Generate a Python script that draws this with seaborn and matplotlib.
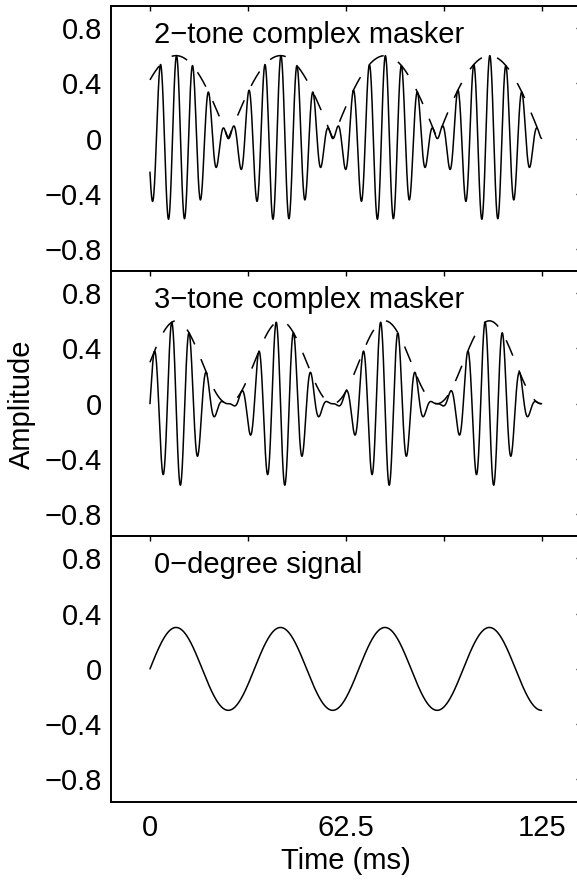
import numpy as np
import matplotlib
matplotlib.use("Agg")
import matplotlib.pyplot as plt
import seaborn as sns

# ---- stimulus definitions (time axis in ms) ----
duration_ms = 125.0
sample_step_ms = 0.05

# 2-tone complex masker: tone frequencies, amplitudes, starting phases
two_tone_freqs_hz = [180.0, 210.0]
two_tone_amps = [0.3, 0.3]
two_tone_phases_deg = [260.0, 170.0]

# 3-tone complex masker
three_tone_freqs_hz = [150.0, 180.0, 210.0]
three_tone_amps = [0.15, 0.3, 0.15]
three_tone_phases_deg = [90.0, 0.0, -90.0]

# 0-degree signal
signal_freqs_hz = [30.0]
signal_amps = [0.3]
signal_phases_deg = [0.0]

panel_titles = ["2−tone complex masker", "3−tone complex masker", "0−degree signal"]
x_ticks = [0, 31.25, 62.5, 93.75, 125]
x_tick_labels = ["0", "", "62.5", "", "125"]
y_ticks = [-0.8, -0.4, 0, 0.4, 0.8]
y_tick_labels = ["−0.8", "−0.4", "0", "0.4", "0.8"]


def synthesize(t_ms, freqs, amps, phases):
    """Sum of sinusoids; returns waveform and its (Hilbert) envelope."""
    t = np.asarray(t_ms) / 1000.0
    z = np.zeros_like(t, dtype=complex)
    for f, a, p in zip(freqs, amps, phases):
        z += a * np.exp(1j * (2 * np.pi * f * t + np.deg2rad(p)))
    return z.imag, np.abs(z)


t_ms = np.arange(0.0, duration_ms + sample_step_ms / 2, sample_step_ms)
two_wave, two_env = synthesize(t_ms, two_tone_freqs_hz, two_tone_amps, two_tone_phases_deg)
three_wave, three_env = synthesize(t_ms, three_tone_freqs_hz, three_tone_amps, three_tone_phases_deg)
sig_wave, _ = synthesize(t_ms, signal_freqs_hz, signal_amps, signal_phases_deg)

sns.set_style("white")
plt.rcParams["font.family"] = ["Liberation Sans", "DejaVu Sans"]
plt.rcParams["axes.unicode_minus"] = True
plt.rcParams["lines.scale_dashes"] = False

FS = 21
W, H = 577, 880
fig = plt.figure(figsize=(W / 100, H / 100), dpi=100)

left_px, x0_px, px_per_ms = 110.8, 150.0, 3.133
xlim = (-12.5, 137.5)
width_px = (xlim[1] - xlim[0]) * px_per_ms
bottom_px, panel_h_px = 801.5, 265.2
ylim = (-0.96, 0.96)

panels = [
    (two_wave, two_env),
    (three_wave, three_env),
    (sig_wave, None),
]

for i, (wave, env) in enumerate(panels):
    top_px = bottom_px - panel_h_px * (3 - i)
    ax = fig.add_axes([left_px / W, (H - (top_px + panel_h_px)) / H,
                       width_px / W, panel_h_px / H])
    sns.lineplot(x=t_ms, y=wave, ax=ax, color="black", linewidth=1.1,
                 estimator=None, sort=False)
    if env is not None:
        sns.lineplot(x=t_ms, y=env, ax=ax, color="black", linewidth=1.1,
                     estimator=None, sort=False)
        ax.lines[-1].set_dashes((12.0, 11.5))
    ax.set_xlim(*xlim)
    ax.set_ylim(*ylim)
    ax.set_xticks(x_ticks)
    ax.set_yticks(y_ticks)
    ax.set_yticklabels(y_tick_labels)
    if i == 2:
        ax.set_xticklabels(x_tick_labels)
    else:
        ax.set_xticklabels([])
    ax.tick_params(axis="both", direction="in", length=5 / 1.39, width=1.0,
                   top=True, right=True, labelsize=FS, color="black",
                   labelcolor="black")
    ax.tick_params(axis="x", pad=9.0)
    ax.tick_params(axis="y", pad=6.5)
    for s in ax.spines.values():
        s.set_visible(True)
        s.set_linewidth(1.4)
        s.set_color("black")
    ax.set_xlabel("")
    ax.set_ylabel("")
    ax.text(1.2, 0.695, panel_titles[i], fontsize=FS, ha="left",
            va="baseline", color="black")

fig.text(22 / W, (H - 404) / H, "Amplitude", rotation=90, fontsize=FS,
         ha="center", va="center", color="black")
fig.text((x0_px + 62.5 * px_per_ms) / W, (H - 869) / H, "Time (ms)",
         fontsize=FS, ha="center", va="baseline", color="black")

fig.savefig("out.png", dpi=100, facecolor="white")
